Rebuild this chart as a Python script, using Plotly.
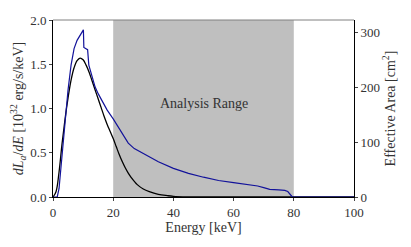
import plotly.graph_objects as go

# Axion luminosity spectrum (left axis, 1e32 erg/s/keV)
lum_energy = [0, 1, 2, 3, 4, 5, 6, 7, 8, 9, 10, 11, 12, 13, 14, 15, 16, 17, 18, 19, 20,
              21, 22, 23, 24, 25, 26, 28, 30, 32, 35, 38, 40, 45, 50, 100]
lum_values = [0, 0.06, 0.28, 0.6, 0.88, 1.12, 1.32, 1.46, 1.54, 1.57, 1.55, 1.49, 1.41, 1.31,
              1.21, 1.11, 1.01, 0.91, 0.82, 0.74, 0.66, 0.57, 0.48, 0.40, 0.33, 0.27, 0.22,
              0.14, 0.09, 0.06, 0.03, 0.015, 0.008, 0.002, 0, 0]

# Effective area (right axis, cm^2)
area_energy = [0, 1.4, 2, 2.5, 3, 3.5, 4, 5, 6, 7, 8, 9, 9.8, 10.1, 10.25, 11.2, 11.5, 11.9,
               12.5, 13, 13.5, 14, 15, 16, 18, 20, 22, 24, 25, 27, 30, 35, 40, 45, 50, 55,
               60, 65, 68, 70, 72, 75, 77, 78, 79, 79.5, 80, 100]
area_values = [0, 0, 15, 45, 80, 115, 145, 195, 240, 270, 285, 295, 302, 304, 272, 270, 268,
               240, 228, 222, 212, 200, 188, 178, 158, 142, 124, 106, 98, 88, 79, 64, 52, 43,
               36, 30, 26, 22, 20, 17, 14, 13, 12, 10, 3, 0, 0, 0]

analysis_range = [20, 80]
x_ticks = [0, 20, 40, 60, 80, 100]
y_ticks = [0, 0.5, 1.0, 1.5, 2.0]
y2_ticks = [0, 100, 200, 300]

FONT = "Liberation Serif"
TXT = "#333333"

fig = go.Figure()
fig.add_trace(go.Scatter(x=area_energy, y=area_values, mode="lines", yaxis="y2",
                         line=dict(color="#12129a", width=1.2), showlegend=False))
fig.add_trace(go.Scatter(x=lum_energy, y=lum_values, mode="lines", line_shape="spline",
                         line=dict(color="black", width=1.3), showlegend=False))

fig.add_shape(type="rect", xref="x", yref="paper", x0=analysis_range[0], x1=analysis_range[1],
              y0=0, y1=1, fillcolor="#bfbfbf", line_width=0, layer="below")
fig.add_shape(type="line", xref="paper", yref="paper", x0=0, x1=1, y0=1, y1=1,
              line=dict(color="#808080", width=1))
fig.add_annotation(x=sum(analysis_range) / 2, y=1.06, text="Analysis Range", showarrow=False,
                   font=dict(family=FONT, size=14, color=TXT))

fig.update_layout(
    width=403, height=239,
    margin=dict(l=45, r=57, t=12, b=50),
    plot_bgcolor="white", paper_bgcolor="white",
    font=dict(family=FONT, size=13, color=TXT),
    xaxis=dict(range=[0, 100], tickvals=x_ticks, ticks="outside", ticklen=3,
               showline=True, linecolor="black", linewidth=1, showgrid=False, zeroline=False,
               automargin=False,
               title=dict(text="Energy [keV]", standoff=0, font=dict(size=14))),
    yaxis=dict(range=[0, 2.0], tickvals=y_ticks, tickformat=".1f", ticks="outside", ticklen=3,
               showline=True, linecolor="black", linewidth=1, showgrid=False, zeroline=False,
               automargin=False,
               title=dict(text="<i>dL</i><sub><i>a</i></sub>/<i>dE</i> [10<sup>32</sup> erg/s/keV]",
                          standoff=4, font=dict(size=14))),
    yaxis2=dict(range=[0, 322], tickvals=y2_ticks, overlaying="y", side="right",
                ticks="outside", ticklen=3, showline=True, linecolor="black", linewidth=1,
                showgrid=False, zeroline=False, automargin=False,
                title=dict(text="Effective Area [cm<sup>2</sup>]", standoff=3, font=dict(size=14))),
)

fig.write_html("out.html")
